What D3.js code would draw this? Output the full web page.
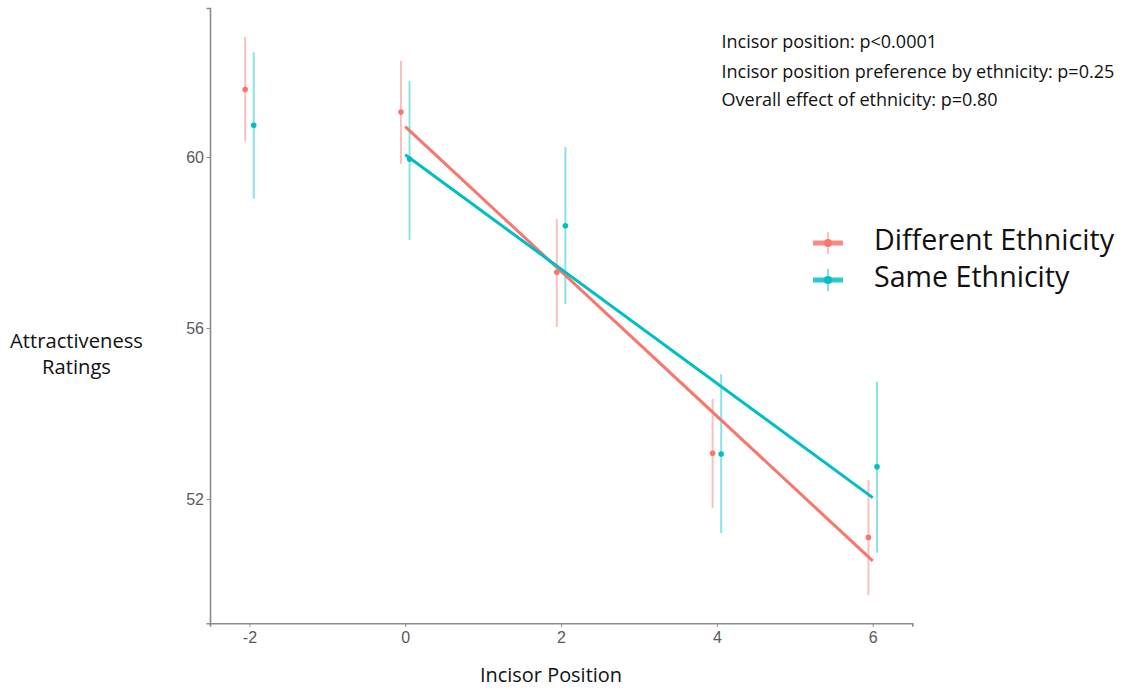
<!DOCTYPE html>
<html>
<head>
<meta charset="utf-8">
<script src="https://cdn.jsdelivr.net/npm/d3@7"></script>
<style>
  html, body { margin: 0; padding: 0; background: #fff; }
  svg { display: block; }
</style>
</head>
<body>
<svg class="chart"></svg>
<script>
// incisor positions and group summaries (mean with error bar ends)
var positions = [-2, 0, 2, 4, 6];
var diffMean = [61.58, 61.05, 57.30, 53.07, 51.10];
var diffLow = [60.36, 59.84, 56.02, 51.79, 49.75];
var diffHigh = [62.81, 62.25, 58.55, 54.34, 52.44];
var sameMean = [60.74, 59.95, 58.39, 53.05, 52.75];
var sameLow = [59.02, 58.06, 56.56, 51.20, 50.74];
var sameHigh = [62.45, 61.78, 60.23, 54.92, 54.74];

// fitted lines, from position 0 to 6
var fitX = [0, 6];
var diffFit = [60.71, 50.55];
var sameFit = [60.05, 52.03];

var xTicks = [-2, 0, 2, 4, 6];
var yTicks = [52, 56, 60];
var groups = ['Different Ethnicity', 'Same Ethnicity'];
var notes = [
  'Incisor position: p<0.0001',
  'Incisor position preference by ethnicity: p=0.25',
  'Overall effect of ethnicity: p=0.80'
];

var colors = ['#F8766D', '#00BFC4'];
var width = 1128, height = 692;
var titleFont = '"Open Sans", "Noto Sans", sans-serif';
var tickFont = '"Liberation Sans", Arial, sans-serif';

var chart = d3.select('.chart').attr('width', width).attr('height', height);

var x = d3.scaleLinear().domain([-2.506, 6.508]).range([210, 912.3]);
var y = d3.scaleLinear().domain([49.09, 63.485]).range([623.3, 8]);

// shrink / grow a text so it covers a measured width
function fitText(sel, target) {
  var size = parseFloat(sel.attr('font-size'));
  var w = sel.node().getComputedTextLength();
  sel.attr('font-size', (size * target / w).toFixed(2));
}

// axes (plain hyphen for negatives, like the original)
var xAxis = chart.append('g')
  .attr('transform', 'translate(0,' + y.range()[0] + ')')
  .call(d3.axisBottom(x).tickValues(xTicks).tickFormat(d => String(d))
    .tickSizeOuter(0).tickSize(3.5).tickPadding(5));
var yAxis = chart.append('g')
  .attr('transform', 'translate(' + x.range()[0] + ',0)')
  .call(d3.axisLeft(y).tickValues(yTicks).tickFormat(d => String(d))
    .tickSizeOuter(0).tickSize(3.5).tickPadding(3));

[xAxis, yAxis].forEach(function(ax) {
  ax.select('.domain').attr('stroke', '#8c8c8c').attr('stroke-width', 1.6);
  ax.selectAll('.tick line').attr('stroke', '#8c8c8c').attr('stroke-width', 1);
  ax.selectAll('.tick text')
    .attr('fill', '#5a5a5a')
    .attr('font-family', tickFont)
    .attr('font-size', 16);
});
yAxis.selectAll('.tick text').attr('x', -6);

// series data
var series = [
  { name: groups[0], mean: diffMean, low: diffLow, high: diffHigh, fit: diffFit, shift: -0.055 },
  { name: groups[1], mean: sameMean, low: sameLow, high: sameHigh, fit: sameFit, shift: 0.055 }
];

var plot = chart.append('g');

series.forEach(function(s, i) {
  var pts = positions.map(function(p, j) {
    return { x: p + s.shift, m: s.mean[j], lo: s.low[j], hi: s.high[j] };
  });

  plot.append('g').selectAll('line')
    .data(pts)
    .enter().append('line')
    .attr('x1', d => x(d.x)).attr('x2', d => x(d.x))
    .attr('y1', d => y(d.lo)).attr('y2', d => y(d.hi))
    .attr('stroke', colors[i])
    .attr('stroke-opacity', 0.45)
    .attr('stroke-width', 2);

  plot.append('g').selectAll('circle')
    .data(pts)
    .enter().append('circle')
    .attr('cx', d => x(d.x))
    .attr('cy', d => y(d.m))
    .attr('r', 2.8)
    .attr('fill', colors[i]);
});

// fitted lines drawn on top
series.forEach(function(s, i) {
  var line = d3.line().x(d => x(d[0])).y(d => y(d[1]));
  plot.append('path')
    .datum(fitX.map((v, j) => [v, s.fit[j]]))
    .attr('d', line)
    .attr('fill', 'none')
    .attr('stroke', colors[i])
    .attr('stroke-width', 3);
});

// axis titles
var xt = chart.append('text')
  .attr('x', 551).attr('y', 681.5)
  .attr('text-anchor', 'middle')
  .attr('font-family', titleFont)
  .attr('font-size', 19)
  .attr('fill', '#111')
  .text('Incisor Position');
fitText(xt, 142);

var yt1 = chart.append('text')
  .attr('x', 76.5).attr('y', 348)
  .attr('text-anchor', 'middle')
  .attr('font-family', titleFont)
  .attr('font-size', 19)
  .attr('fill', '#111')
  .text('Attractiveness');
fitText(yt1, 133);
chart.append('text')
  .attr('x', 76.5).attr('y', 374)
  .attr('text-anchor', 'middle')
  .attr('font-family', titleFont)
  .attr('font-size', yt1.attr('font-size'))
  .attr('fill', '#111')
  .text('Ratings');

// p-value notes
var noteY = [48.3, 77.5, 106];
var noteSel = chart.append('g').selectAll('text')
  .data(notes)
  .enter().append('text')
  .attr('x', 721.5)
  .attr('y', (d, i) => noteY[i])
  .attr('font-family', titleFont)
  .attr('font-size', 16)
  .attr('fill', '#111')
  .text(d => d);
var longest = d3.select(noteSel.nodes()[1]);
fitText(longest, 393);
noteSel.attr('font-size', longest.attr('font-size'));

// legend
var legendY = [243, 280];
var legendTextY = [250, 287.3];
var legend = chart.append('g');
groups.forEach(function(g, i) {
  legend.append('line')
    .attr('x1', 813).attr('x2', 843)
    .attr('y1', legendY[i]).attr('y2', legendY[i])
    .attr('stroke', colors[i]).attr('stroke-width', 5).attr('stroke-opacity', 0.85);
  legend.append('line')
    .attr('x1', 828).attr('x2', 828)
    .attr('y1', legendY[i] - 11).attr('y2', legendY[i] + 11)
    .attr('stroke', colors[i]).attr('stroke-width', 2).attr('stroke-opacity', 0.45);
  legend.append('circle')
    .attr('cx', 828).attr('cy', legendY[i]).attr('r', 4)
    .attr('fill', colors[i]);
});
var lt = legend.selectAll('text.lab')
  .data(groups)
  .enter().append('text')
  .attr('class', 'lab')
  .attr('x', 874)
  .attr('y', (d, i) => legendTextY[i])
  .attr('font-family', titleFont)
  .attr('font-size', 24)
  .attr('fill', '#111')
  .text(d => d);
var first = d3.select(lt.nodes()[0]);
fitText(first, 240);
lt.attr('font-size', first.attr('font-size'));
</script>
</body>
</html>
